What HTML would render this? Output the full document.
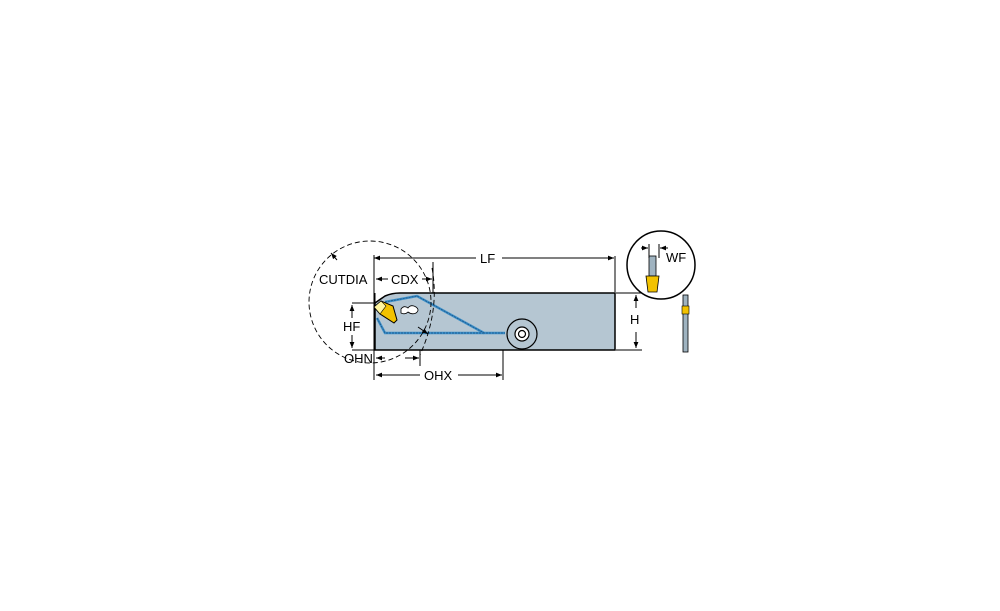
<!DOCTYPE html>
<html><head><style>html,body{margin:0;padding:0;background:#fff}svg{display:block}</style></head>
<body>
<svg width="1000" height="611" viewBox="0 0 1000 611" xmlns="http://www.w3.org/2000/svg" font-family="Liberation Sans, sans-serif">
<defs>
<marker id="a" viewBox="0 0 10 10" refX="10" refY="5" markerWidth="7" markerHeight="6" orient="auto-start-reverse"><path d="M0,1L10,5L0,9z" fill="#000"/></marker>
</defs>
<!-- body -->
<path d="M375,303 L385,296 Q392,293 400,293 L615,293 L615,350 L375,350 Z" fill="#b5c6d2" stroke="#000" stroke-width="1.5"/>
<path d="M375,293 L375,303" stroke="#000"/>
<!-- coolant channels -->
<g fill="none" stroke="#3b8fc8" stroke-width="2.5">
<path d="M385,302 L417,296 L484,333 L505,333"/>
<path d="M377,318 L385,333 L484,333"/>
</g>
<g fill="none" stroke="#1a4d80" stroke-width="0.7" stroke-dasharray="2,1">
<path d="M385,302 L417,296 L484,333 L505,333"/>
<path d="M377,318 L385,333 L484,333"/>
</g>
<!-- insert -->
<path d="M374,307 L381,301 L393,306 L397,320 L394,323 L380,314 Z" fill="#f2c200" stroke="#000" stroke-width="1"/>
<path d="M374,307 L381,301 L386,306 L380,314Z" fill="#fff6a0" stroke="#000" stroke-width="0.6"/>
<!-- slot -->
<path d="M401,309 q3,-4 7,-1 q3,-4 8,-1 q4,3 0,6 q-4,2 -8,-1 q-3,3 -7,1z" fill="#fff" stroke="#000" stroke-width="0.8"/>
<!-- screw -->
<circle cx="522" cy="334" r="15" fill="#b5c6d2" stroke="#000" stroke-width="1.2"/>
<circle cx="522" cy="334" r="7" fill="#fff" stroke="#000" stroke-width="1.2"/>
<circle cx="522" cy="334" r="3.5" fill="none" stroke="#000" stroke-width="1.2"/>
<!-- dashed circle -->
<circle cx="370" cy="302" r="61" fill="none" stroke="#000" stroke-width="0.9" stroke-dasharray="5,3"/>
<path d="M432,268 Q440,310 420,355" fill="none" stroke="#000" stroke-width="0.9" stroke-dasharray="5,3"/>
<path d="M337,260 L331,253" stroke="#000" marker-end="url(#a)"/>
<path d="M418,327 L428,334" stroke="#000" marker-end="url(#a)"/>
<!-- detail circle -->
<circle cx="661" cy="265" r="34" fill="#fff" stroke="#000" stroke-width="1.5"/>
<rect x="649" y="256" width="7" height="20" fill="#9fb3c0" stroke="#000" stroke-width="0.8"/>
<path d="M646,276 L659,276 L657,292 L648,292Z" fill="#f2c200" stroke="#000" stroke-width="0.8"/>
<!-- dimension lines -->
<g stroke="#000" stroke-width="1" fill="none">
<line x1="374" y1="255" x2="374" y2="380"/>
<line x1="615" y1="256" x2="615" y2="292"/>
<line x1="374" y1="258" x2="476" y2="258" marker-start="url(#a)"/>
<line x1="502" y1="258" x2="614" y2="258" marker-end="url(#a)"/>
<line x1="433" y1="262" x2="433" y2="293"/>
<line x1="376" y1="279" x2="388" y2="279" marker-start="url(#a)"/>
<line x1="422" y1="279" x2="432" y2="279" marker-end="url(#a)"/>
<line x1="352" y1="303" x2="374" y2="303"/>
<line x1="352" y1="350" x2="374" y2="350"/>
<line x1="352" y1="305" x2="352" y2="318" marker-start="url(#a)"/>
<line x1="352" y1="335" x2="352" y2="348" marker-end="url(#a)"/>
<line x1="420" y1="350" x2="420" y2="366"/>
<line x1="376" y1="358" x2="385" y2="358" marker-start="url(#a)"/>
<line x1="405" y1="358" x2="419" y2="358" marker-end="url(#a)"/>
<line x1="503" y1="350" x2="503" y2="380"/>
<line x1="376" y1="375" x2="420" y2="375" marker-start="url(#a)"/>
<line x1="458" y1="375" x2="502" y2="375" marker-end="url(#a)"/>
<line x1="616" y1="293" x2="642" y2="293"/>
<line x1="616" y1="350" x2="642" y2="350"/>
<line x1="636" y1="308" x2="636" y2="295" marker-end="url(#a)"/>
<line x1="636" y1="332" x2="636" y2="348" marker-end="url(#a)"/>
<line x1="649" y1="244" x2="649" y2="258"/><line x1="659" y1="244" x2="659" y2="258"/>
<line x1="641" y1="248" x2="648" y2="248" marker-end="url(#a)"/>
<line x1="668" y1="248" x2="660" y2="248" marker-end="url(#a)"/>
</g>
<g font-size="13" fill="#000">
<text x="480" y="263">LF</text>
<text x="319" y="284">CUTDIA</text>
<text x="391" y="284">CDX</text>
<text x="343" y="331">HF</text>
<text x="344" y="363">OHN</text>
<text x="424" y="380">OHX</text>
<text x="630" y="324">H</text>
<text x="666" y="262">WF</text>
</g>
<!-- side view -->
<rect x="683" y="295" width="5" height="57" fill="#9fb3c0" stroke="#000" stroke-width="0.8"/>
<rect x="682" y="306" width="7" height="8" fill="#f2c200" stroke="#000" stroke-width="0.6"/>
</svg>
</body></html>
